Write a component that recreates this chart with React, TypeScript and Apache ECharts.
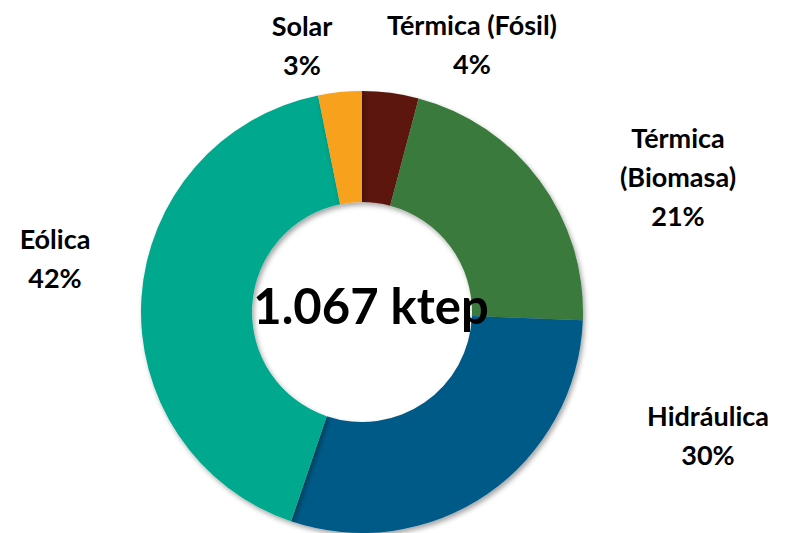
import React, { useEffect, useRef } from "react";
import * as echarts from "echarts";

const categories = ["Térmica (Fósil)", "Térmica\n(Biomasa)", "Hidráulica", "Eólica", "Solar"];
const values = [44, 229, 316, 444, 34];
const colors = ["#5B1911", "#3A7A3D", "#005A87", "#00A88E", "#F7A11F"];
const centerText = "1.067 ktep";
const labelPos = [
  [472, 44],
  [678, 176],
  [708, 435],
  [55, 258],
  [302, 45],
];

export default function App() {
  const ref = useRef<HTMLDivElement>(null);
  useEffect(() => {
    const chart = echarts.init(ref.current!, undefined, { renderer: "svg" });
    chart.setOption({
      animation: false,
      backgroundColor: "#ffffff",
      textStyle: { fontFamily: "Lato" },
      graphic: [
        {
          type: "text",
          x: 371,
          y: 305,
          style: {
            text: centerText,
            align: "center",
            verticalAlign: "middle",
            fontFamily: "Lato",
            fontWeight: "bold",
            fontSize: 49,
            fill: "#000",
          },
          z: 10,
        },
      ],
      series: [
        {
          type: "pie",
          center: [362, 312],
          radius: [110, 221],
          startAngle: 90,
          clockwise: true,
          avoidLabelOverlap: false,
          itemStyle: {
            shadowBlur: 5,
            shadowColor: "rgba(0,0,0,0.35)",
            shadowOffsetX: 2,
            shadowOffsetY: 3,
          },
          label: {
            show: true,
            position: "outside",
            fontFamily: "Lato",
            fontWeight: "bold",
            fontSize: 27,
            lineHeight: 39,
            color: "#000",
            align: "center",
            formatter: (p: any) => `${p.name}\n${Math.round(p.percent)}%`,
          },
          labelLine: { show: false },
          labelLayout: (p: any) => ({
            x: labelPos[p.dataIndex][0],
            y: labelPos[p.dataIndex][1],
            align: "center",
            verticalAlign: "middle",
          }),
          data: categories.map((name, i) => ({
            name,
            value: values[i],
            itemStyle: { color: colors[i] },
          })),
        },
      ],
    });
    return () => chart.dispose();
  }, []);
  return (
    <div
      ref={ref}
      style={{ position: "fixed", left: 0, top: 0, width: 793, height: 533 }}
    />
  );
}
